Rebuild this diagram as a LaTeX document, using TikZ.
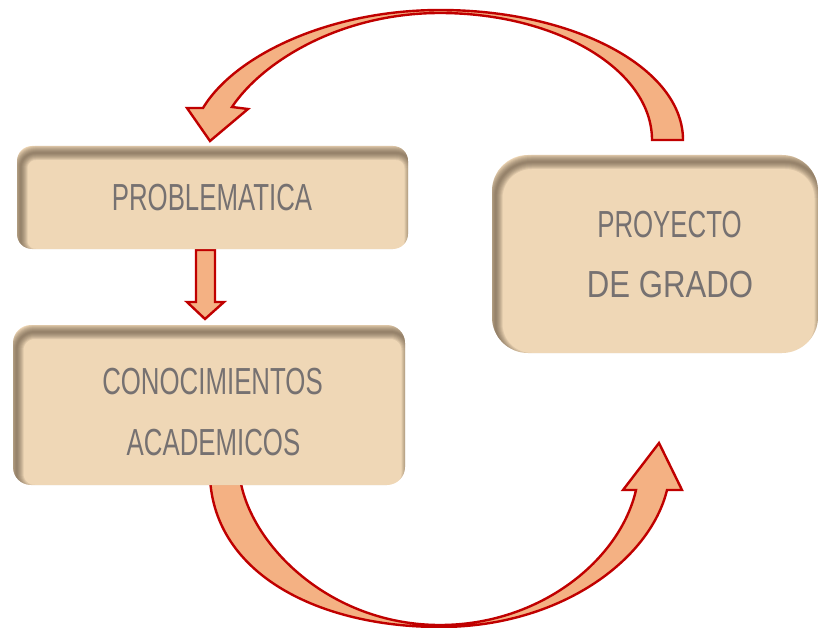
\documentclass[tikz,border=0pt]{standalone}
\usepackage{fontspec}
\setmainfont{Liberation Sans}
\usepackage{graphicx}
\definecolor{boxfill}{HTML}{EFD7B6}
\definecolor{shadowcol}{HTML}{5E4E3C}
\definecolor{arrfill}{HTML}{F4B183}
\definecolor{arrline}{HTML}{C00000}
\definecolor{txt}{HTML}{767171}
\tikzset{
  blockarrow/.style={fill=arrfill, draw=arrline, line width=2.4pt, line join=miter},
  lbl/.style={anchor=base, text=txt, font=\fontsize{37.7}{40}\selectfont, inner sep=0pt},
  softbox/.style={fill=boxfill, inner sep=0pt, outer sep=0pt, rounded corners=#1,
    path picture={
      \foreach \w in {2,4,6,8,10,12,14}
        \draw[draw=shadowcol, opacity=0.12, line width=\w pt, rounded corners=#1]
          ([shift={(3.5pt,-7pt)}]path picture bounding box.north west) rectangle
          ([shift={(3.5pt,-7pt)}]path picture bounding box.south east);
    }},
}
\begin{document}
\begin{tikzpicture}[x=1pt,y=-1pt]
\useasboundingbox (0,0) rectangle (818,628);
% curved block arrows
\filldraw[blockarrow] (683,140) .. controls (683,68) and (574,10) .. (440,10)
  .. controls (330,10) and (235,55) .. (203,108) -- (187,108) -- (210,141) -- (248,109) -- (232,107)
  .. controls (262,62) and (340,13) .. (440,13)
  .. controls (557,13) and (652,70) .. (652,140) -- cycle;
\filldraw[blockarrow] (210,478) .. controls (215,575) and (320,627) .. (440,627)
  .. controls (560,627) and (650,560) .. (667,490) -- (682,490) -- (659,443) -- (623,490) -- (636,490)
  .. controls (620,560) and (540,625) .. (440,625)
  .. controls (330,625) and (250,545) .. (240,478) -- cycle;
% small down arrow
\filldraw[blockarrow] (196,250) -- (215,250) -- (215,302) -- (224,302) -- (205,319) -- (187,302) -- (196,302) -- cycle;
% boxes
\node[softbox=15pt, minimum width=391pt, minimum height=103pt] (prob) at (212.5,197.5) {};
\node[softbox=18pt, minimum width=392pt, minimum height=160pt] (cono) at (209,405) {};
\node[softbox=36pt, minimum width=326pt, minimum height=198pt] (proy) at (655,254) {};
% texts
\node[lbl] (t1) at (212,211) {\scalebox{0.685}[1]{PROBLEMATICA}};
\node[lbl] (t2) at (212.5,394) {\scalebox{0.685}[1]{CONOCIMIENTOS}};
\node[lbl] (t3) at (213.5,455) {\scalebox{0.685}[1]{ACADEMICOS}};
\node[lbl] (t4) at (669.5,237) {\scalebox{0.685}[1]{PROYECTO}};
\node[lbl] (t5) at (670,297) {\scalebox{0.826}[1]{DE GRADO}};
\end{tikzpicture}
\end{document}
